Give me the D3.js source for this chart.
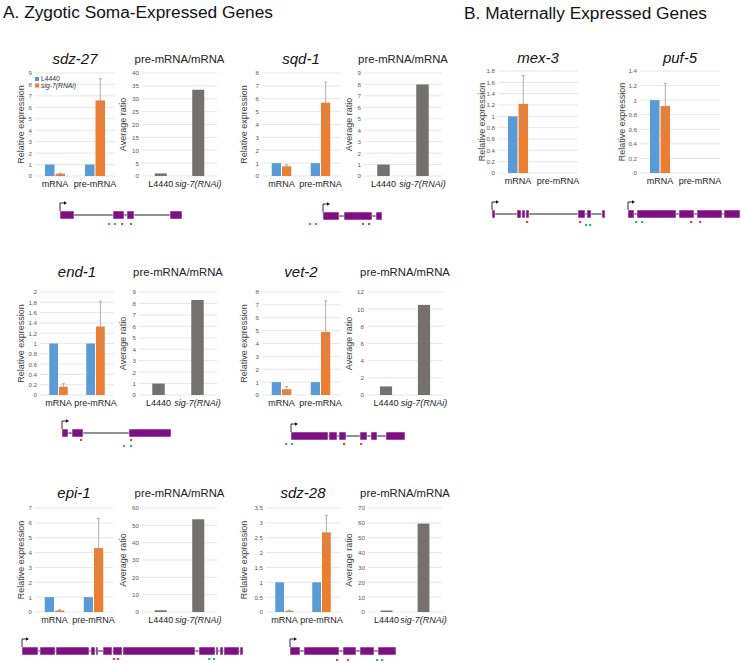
<!DOCTYPE html>
<html><head><meta charset="utf-8">
<script src="https://cdn.jsdelivr.net/npm/d3@7"></script>
<style>body{margin:0;background:#fff}svg{display:block;font-family:"Liberation Sans",Arial,sans-serif}</style>
</head><body><svg id="c" width="742" height="663"></svg>
<script>
// ---------------- DATA ----------------
const categories = ["mRNA", "pre-mRNA"];
const seriesNames = ["L4440", "sig-7(RNAi)"];
const ratioCategories = ["L4440", "sig-7(RNAi)"];

// Zygotic soma-expressed genes
const zygoticGenes = ["sdz-27", "sqd-1", "end-1", "vet-2", "epi-1", "sdz-28"];
const zMrnaL4440 = [1, 1, 1, 1, 1, 1];
const zMrnaSig7 = [0.2, 0.75, 0.16, 0.45, 0.1, 0.04];
const zMrnaSig7Err = [0.04, 0.12, 0.06, 0.2, 0.05, 0.02];
const zPreL4440 = [1, 1, 1, 1, 1, 1];
const zPreSig7 = [6.6, 5.7, 1.33, 4.9, 4.3, 2.68];
const zPreSig7Err = [1.9, 1.6, 0.49, 2.4, 2.0, 0.57];
const zExprMax = [9, 8, 2, 8, 7, 3.5];
const zExprStep = [1, 1, 0.2, 1, 1, 0.5];
const zRatioL4440 = [1, 1, 1, 1, 1, 1];
const zRatioSig7 = [33.5, 8, 8.3, 10.5, 53.5, 59.5];
const zRatioMax = [40, 9, 9, 12, 60, 70];
const zRatioStep = [5, 1, 1, 2, 10, 10];

// Maternally expressed genes
const maternalGenes = ["mex-3", "puf-5"];
const mMrnaL4440 = [1, 1];
const mMrnaSig7 = [1.22, 0.92];
const mMrnaSig7Err = [0.5, 0.31];
const mExprMax = [1.8, 1.4];
const mExprStep = [0.2, 0.2];

// Gene models (relative gene coordinates)
const geneLength = [122, 59, 109, 114, 221, 106, 113, 112];
const geneExons = [
  [[0,14],[53,64],[67,74],[110,122]],
  [[0,16],[21,49],[53,59]],
  [[0,6],[10,21],[67,109]],
  [[0,37],[38,46],[48,55],[69,76],[80,86],[95,114]],
  [[0,16],[18,33],[34,67],[69,73],[74,76],[81,90],[91,100],[101,173],[177,193],[194,196],[198,201],[202,217],[218,221]],
  [[0,10],[14,49],[53,66],[70,84],[88,106]],
  [[0,3],[25,29],[30,33],[34,37],[86,93],[95,99],[110,113]],
  [[0,6],[9,48],[51,66],[69,94],[96,112]]
];
const greenPrimers = [[49,55],[-13,-7],[62,69],[-5,1],[187,192],[87,92],[94,98],[8,14]];
const redPrimers = [[62,71],[40,46],[19,69],[53,70],[92,96],[47,58],[35,88],[63,72]];

// ---------------- LAYOUT ----------------
const C = {blue:"#5B9BD5", orange:"#ED7D31", gray:"#767171", grid:"#dcdcdc", tick:"#595959",
  err:"#9a9a9a", exon:"#7f1083", green:"#2fb37c", red:"#e8403c", text:"#404040"};
const svg = d3.select("#c");

const zExprX = [[35,115],[262,340],[40,114],[262,340],[35,113],[266,340]];
const zRatioX = [[142,217],[364,442],[139,217],[367,443],[142,217],[368,442]];
const zYLabX = [21,244,21,244,21,244];
const zRatioYLabX = [123,349,123,349,123,349];
const rowTop = [73,292,508], rowBottom = [176,395,612];
const titleY = [64,277,498];
const mExprX = [[498,578],[640,720]];
const mYLabX = [482,622];
const geneX = [60,323,62,291,22,290,492,628];
const geneY = [215,216,433,436,651,651,214,214];
const greenDrop = [9,8,13,8,8,9,11,8];
const redDrop = [9,8,7,8,8,9,8,8];

function ticksFor(max, step){
  const n = Math.round(max/step);
  return d3.range(n+1).map(i => +(i*step).toFixed(2));
}

function yAxis(g, y, x0, ticks){
  g.append("g").selectAll("line").data(ticks).join("line")
    .attr("x1", x0).attr("x2", null).attr("y1", d=>y(d)).attr("y2", d=>y(d));
}

function drawFrame(g, y, x0, x1, ticks, ylabX, ylab){
  g.append("g").selectAll("line").data(ticks).join("line")
    .attr("x1", x0).attr("x2", x1).attr("y1", d=>y(d)).attr("y2", d=>y(d))
    .attr("stroke", C.grid).attr("stroke-width", 0.7);
  const ax = g.append("g").attr("transform", `translate(${x0},0)`)
    .call(d3.axisLeft(y).tickValues(ticks).tickSize(0).tickPadding(3).tickFormat(d=>String(d)));
  ax.select(".domain").remove();
  ax.selectAll("text").attr("fill", C.tick).attr("font-size", 6.2).attr("font-family", "Liberation Sans, Arial, sans-serif");
  const [ya, yb] = y.range();
  g.append("text").attr("transform", `translate(${ylabX},${(ya+yb)/2}) rotate(-90)`)
    .attr("text-anchor","middle").attr("dy","0.35em").attr("font-size", 9).attr("fill", C.text).text(ylab);
}

function drawExpr(o){
  const g = svg.append("g");
  const y = d3.scaleLinear().domain([0,o.max]).range([o.bottom,o.top]);
  const x = d3.scaleBand().domain(categories).range(o.xr);
  const ticks = ticksFor(o.max,o.step);
  drawFrame(g, y, o.xr[0], o.xr[1], ticks, o.ylabX, "Relative expression");
  const bw = x.bandwidth();
  const sub = d3.scaleBand().domain(seriesNames).range([bw*0.25, bw*0.75]).paddingInner(0.1);
  const bars = [];
  o.values.forEach((v,i)=>{
    if (v[0] != null) bars.push({c:categories[i], s:seriesNames[0], v:v[0], e:0, col:C.blue});
    if (v[1] != null) bars.push({c:categories[i], s:seriesNames[1], v:v[1], e:v[2], col:C.orange});
  });
  g.append("g").selectAll("rect").data(bars).join("rect")
    .attr("x", d=>x(d.c)+sub(d.s)).attr("width", sub.bandwidth())
    .attr("y", d=>y(d.v)).attr("height", d=>y(0)-y(d.v)).attr("fill", d=>d.col);
  const eb = bars.filter(d=>d.e>0);
  const ex = d=>x(d.c)+sub(d.s)+sub.bandwidth()/2;
  const eg = g.append("g").attr("stroke", C.err).attr("stroke-width", 0.8);
  eg.selectAll("line.v").data(eb).join("line").attr("class","v")
    .attr("x1",ex).attr("x2",ex).attr("y1",d=>y(d.v-d.e)).attr("y2",d=>y(d.v+d.e));
  eg.selectAll("line.t").data(eb).join("line").attr("class","t")
    .attr("x1",d=>ex(d)-1.5).attr("x2",d=>ex(d)+1.5).attr("y1",d=>y(d.v+d.e)).attr("y2",d=>y(d.v+d.e));
  eg.selectAll("line.b").data(eb).join("line").attr("class","b")
    .attr("x1",d=>ex(d)-1.5).attr("x2",d=>ex(d)+1.5).attr("y1",d=>y(d.v-d.e)).attr("y2",d=>y(d.v-d.e));
  g.append("g").selectAll("text").data(categories).join("text")
    .attr("x", d=>x(d)+bw/2).attr("y", o.bottom+10.5).attr("text-anchor","middle")
    .attr("font-size", 9).attr("fill", "#222").text(d=>d);
  g.append("text").attr("x", (o.xr[0]+o.xr[1])/2).attr("y", o.titleY).attr("text-anchor","middle")
    .attr("font-size", 15).attr("font-style","italic").attr("fill","#111").text(o.title);
  if (o.legend){
    const lg = g.append("g");
    seriesNames.forEach((s,i)=>{
      lg.append("rect").attr("x", o.xr[0]).attr("y", o.top+4+i*6.5).attr("width",4).attr("height",4)
        .attr("fill", i===0?C.blue:C.orange);
      lg.append("text").attr("x", o.xr[0]+6).attr("y", o.top+8+i*6.5).attr("font-size",6.8)
        .attr("fill","#333").attr("font-style", i===0?"normal":"italic").text(s);
    });
  }
}

function drawRatio(o){
  const g = svg.append("g");
  const y = d3.scaleLinear().domain([0,o.max]).range([o.bottom,o.top]);
  const x = d3.scaleBand().domain(ratioCategories).range(o.xr);
  const ticks = ticksFor(o.max,o.step);
  drawFrame(g, y, o.xr[0], o.xr[1], ticks, o.ylabX, "Average ratio");
  const bw = x.bandwidth(), w = bw*0.32;
  g.append("g").selectAll("rect").data(o.values).join("rect")
    .attr("x",(d,i)=>x(ratioCategories[i])+bw/2-w/2).attr("width",w)
    .attr("y",d=>y(d)).attr("height",d=>y(0)-y(d)).attr("fill",C.gray);
  g.append("g").selectAll("text").data(ratioCategories).join("text")
    .attr("x", d=>x(d)+bw/2).attr("y", o.bottom+10.5).attr("text-anchor","middle")
    .attr("font-size", 9).attr("fill","#222").attr("font-style",(d,i)=>i===1?"italic":"normal").text(d=>d);
  g.append("text").attr("x",(o.xr[0]+o.xr[1])/2).attr("y",o.titleY-1.5).attr("text-anchor","middle")
    .attr("font-size",11.3).attr("fill","#222").text("pre-mRNA/mRNA");
}

function drawGene(i){
  const g = svg.append("g");
  const L = geneLength[i];
  const x = d3.scaleLinear().domain([0,L]).range([geneX[i], geneX[i]+L]);
  const y = geneY[i];
  g.append("line").attr("x1",x(0)).attr("x2",x(L)).attr("y1",y).attr("y2",y)
    .attr("stroke","#222").attr("stroke-width",1.1);
  g.append("g").selectAll("rect").data(geneExons[i]).join("rect")
    .attr("x",d=>x(d[0])).attr("width",d=>x(d[1])-x(d[0])).attr("y",y-4).attr("height",8)
    .attr("fill",C.exon).attr("stroke","#fff").attr("stroke-width",0.5);
  const ax = x(0);
  g.append("path").attr("d",`M${ax},${y-4}V${y-12}H${ax+5}`).attr("fill","none").attr("stroke","#111").attr("stroke-width",0.9);
  g.append("path").attr("d",`M${ax+7},${y-12}L${ax+4},${y-13.8}L${ax+4},${y-10.2}Z`).attr("fill","#111");
  g.append("g").selectAll("rect").data(greenPrimers[i]).join("rect")
    .attr("x",d=>x(d)-1).attr("y",y+greenDrop[i]-1).attr("width",2.2).attr("height",2).attr("fill",C.green);
  g.append("g").selectAll("rect").data(redPrimers[i]).join("rect")
    .attr("x",d=>x(d)-1).attr("y",y+redDrop[i]-1).attr("width",2.2).attr("height",2).attr("fill",C.red);
}

// ---------------- DRAW ----------------
svg.append("text").attr("x",3).attr("y",18).attr("font-size",17.3).attr("fill","#111")
  .text("A. Zygotic Soma-Expressed Genes");
svg.append("text").attr("x",464).attr("y",19).attr("font-size",17.3).attr("fill","#111")
  .text("B. Maternally Expressed Genes");

zygoticGenes.forEach((gname,i)=>{
  const r = Math.floor(i/2);
  drawExpr({title:gname, xr:zExprX[i], top:rowTop[r], bottom:rowBottom[r], max:zExprMax[i], step:zExprStep[i],
    values:[[zMrnaL4440[i], zMrnaSig7[i], zMrnaSig7Err[i]],[zPreL4440[i], zPreSig7[i], zPreSig7Err[i]]],
    ylabX:zYLabX[i], titleY:titleY[r], legend:i===0});
  drawRatio({xr:zRatioX[i], top:rowTop[r], bottom:rowBottom[r], max:zRatioMax[i], step:zRatioStep[i],
    values:[zRatioL4440[i], zRatioSig7[i]], ylabX:zRatioYLabX[i], titleY:titleY[r]});
  drawGene(i);
});
maternalGenes.forEach((gname,i)=>{
  drawExpr({title:gname, xr:mExprX[i], top:71, bottom:173, max:mExprMax[i], step:mExprStep[i],
    values:[[mMrnaL4440[i], mMrnaSig7[i], mMrnaSig7Err[i]],[null,null,0]],
    ylabX:mYLabX[i], titleY:63, legend:false});
  drawGene(6+i);
});
</script></body></html>
